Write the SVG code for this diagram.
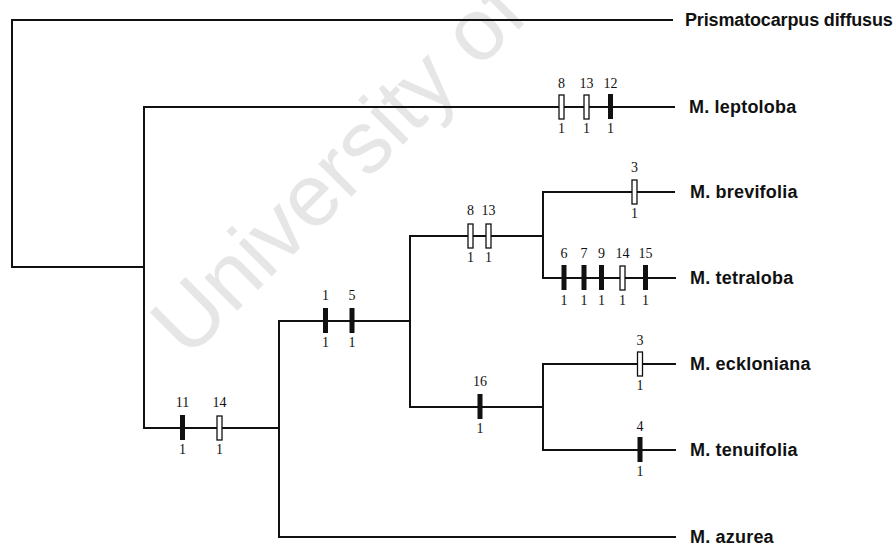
<svg xmlns="http://www.w3.org/2000/svg" xmlns:xlink="http://www.w3.org/1999/xlink" width="895" height="548" viewBox="0 0 895 548">
<style>
.br{fill:none;stroke:#111;stroke-width:2}
.n{font-family:"Liberation Serif",serif;font-size:14px;text-anchor:middle;fill:#111}
.lab{font-family:"Liberation Sans",Arial,sans-serif;font-size:18px;font-weight:bold;letter-spacing:0.2px;fill:#111}
.wm{font-family:"Liberation Sans",Arial,sans-serif;font-size:88px;fill:#e6e6e6}
</style>
<defs>
<rect id="f" x="-2.5" y="-13" width="5" height="25" fill="#111"/>
<rect id="o" x="-2.5" y="-12" width="5" height="24" fill="#fff" stroke="#111" stroke-width="1.3"/>
</defs>
<rect width="895" height="548" fill="#fff"/>
<text class="wm" x="188" y="360" transform="rotate(-45 188 360)">University of</text>
<g id="connectors">
<path class="br" d="M673,20 H12 V267 H144"/>
<path class="br" d="M675,107 H144 V428 H279"/>
<path class="br" d="M676,537 H279 V321 H410"/>
<path class="br" d="M543,236 H410 V407 H543"/>
<path class="br" d="M675,192 H543 V278 H676"/>
<path class="br" d="M676,364 H543 V450 H676"/>
</g>
<g id="node-root-ingroup">
<use xlink:href="#f" x="182.5" y="428"/>
<use xlink:href="#o" x="219.5" y="428"/>
<text class="n" x="182.5" y="407">11</text>
<text class="n" x="219.5" y="407">14</text>
<text class="n" x="182.5" y="454">1</text>
<text class="n" x="219.5" y="454">1</text>
</g>
<g id="node-1-5">
<use xlink:href="#f" x="325.5" y="321"/>
<use xlink:href="#f" x="352" y="321"/>
<text class="n" x="325.5" y="300">1</text>
<text class="n" x="352" y="300">5</text>
<text class="n" x="325.5" y="347">1</text>
<text class="n" x="352" y="347">1</text>
</g>
<g id="node-8-13">
<use xlink:href="#o" x="470.5" y="236"/>
<use xlink:href="#o" x="488.5" y="236"/>
<text class="n" x="470.5" y="215">8</text>
<text class="n" x="488.5" y="215">13</text>
<text class="n" x="470.5" y="262">1</text>
<text class="n" x="488.5" y="262">1</text>
</g>
<g id="node-16">
<use xlink:href="#f" x="480" y="407"/>
<text class="n" x="480" y="386">16</text>
<text class="n" x="480" y="433">1</text>
</g>
<g id="taxon-prismatocarpus">
<text class="lab" x="685" y="26" textLength="208" lengthAdjust="spacing">Prismatocarpus diffusus</text>
</g>
<g id="taxon-leptoloba">
<use xlink:href="#o" x="561.5" y="107"/>
<use xlink:href="#o" x="586.5" y="107"/>
<use xlink:href="#f" x="610.5" y="107"/>
<text class="n" x="561.5" y="88">8</text>
<text class="n" x="586.5" y="88">13</text>
<text class="n" x="610.5" y="88">12</text>
<text class="n" x="561.5" y="133">1</text>
<text class="n" x="586.5" y="133">1</text>
<text class="n" x="610.5" y="133">1</text>
<text class="lab" x="689" y="113">M. leptoloba</text>
</g>
<g id="taxon-brevifolia">
<use xlink:href="#o" x="634.5" y="192"/>
<text class="n" x="634.5" y="172">3</text>
<text class="n" x="634.5" y="218">1</text>
<text class="lab" x="690" y="198">M. brevifolia</text>
</g>
<g id="taxon-tetraloba">
<use xlink:href="#f" x="564" y="278"/>
<use xlink:href="#f" x="584" y="278"/>
<use xlink:href="#f" x="601.5" y="278"/>
<use xlink:href="#o" x="622.5" y="278"/>
<use xlink:href="#f" x="645.5" y="278"/>
<text class="n" x="564" y="258">6</text>
<text class="n" x="584" y="258">7</text>
<text class="n" x="601.5" y="258">9</text>
<text class="n" x="622.5" y="258">14</text>
<text class="n" x="645.5" y="258">15</text>
<text class="n" x="564" y="305">1</text>
<text class="n" x="584" y="305">1</text>
<text class="n" x="601.5" y="305">1</text>
<text class="n" x="622.5" y="305">1</text>
<text class="n" x="645.5" y="305">1</text>
<text class="lab" x="690" y="284">M. tetraloba</text>
</g>
<g id="taxon-ecklonian">
<use xlink:href="#o" x="640" y="364"/>
<text class="n" x="640" y="345">3</text>
<text class="n" x="640" y="390">1</text>
<text class="lab" x="690" y="370">M. eckloniana</text>
</g>
<g id="taxon-tenuifolia">
<use xlink:href="#f" x="640" y="450"/>
<text class="n" x="640" y="431">4</text>
<text class="n" x="640" y="476">1</text>
<text class="lab" x="690" y="456">M. tenuifolia</text>
</g>
<g id="taxon-azurea">
<text class="lab" x="690" y="543">M. azurea</text>
</g>
</svg>
